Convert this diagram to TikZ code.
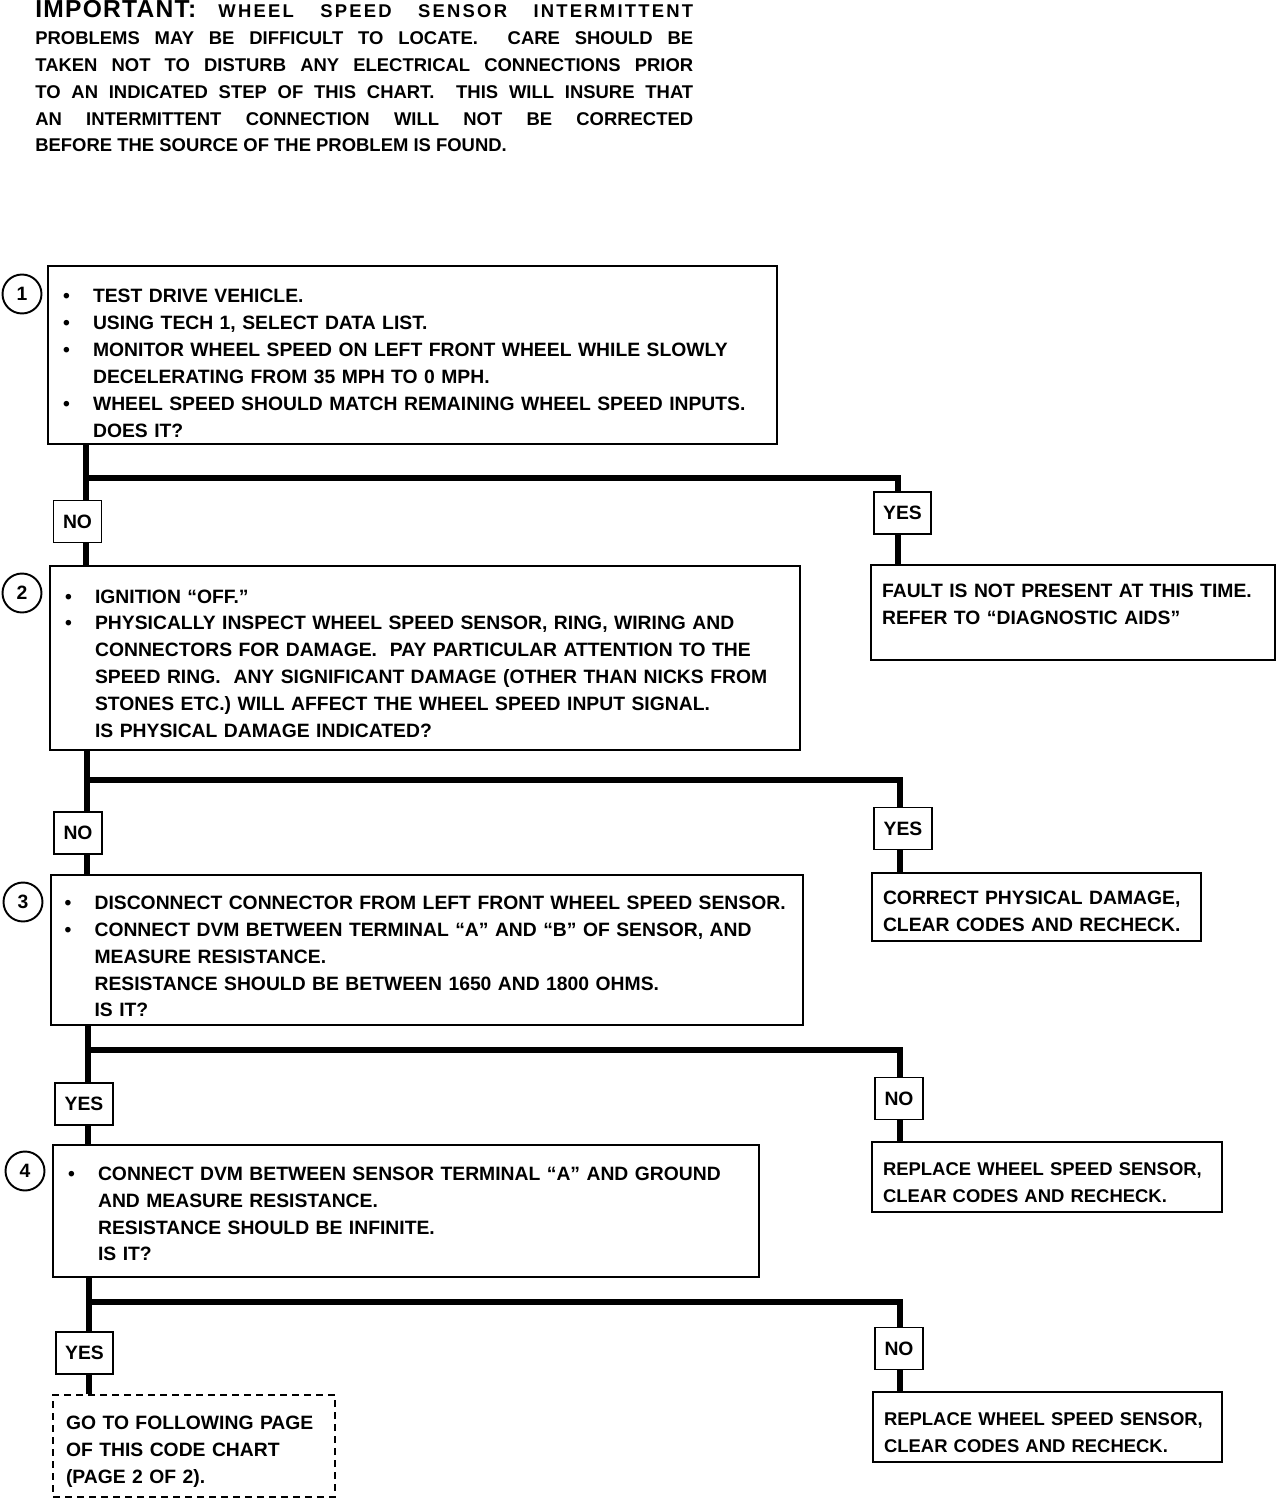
\documentclass[tikz,border=0pt]{standalone}
\usepackage{fontspec}
\setmainfont{Liberation Sans}
\newcommand\bul{\makebox[0.6cm][l]{\textbullet}}
\newcommand\ind{\hspace*{0.6cm}}
\newcommand\lift[1]{\rule{0pt}{\dimexpr 8.1pt+#1\relax}}
\newcommand\sink[1]{\rule[-#1]{0pt}{#1}}

\begin{document}
\begin{tikzpicture}[x=0.02cm, y=-0.02cm,
	font=\fontsize{11pt}{15.3pt}\selectfont\bfseries,
	main/.style = {draw, circle, line width=1.1pt, minimum size=0.78cm, inner sep=0pt},
	box/.style = {draw, line width=1.1pt, align=left, inner sep=0pt},
	lbl/.style = {draw, line width=1.1pt, minimum height=0.84cm, inner xsep=0.19cm},
	flow/.style = {line width=0.12cm}]
	\useasboundingbox (0,0) rectangle (1280,1500);
	\node[anchor=north west, align=left, inner sep=0pt, font=\fontsize{10.5pt}{15.3pt}\selectfont\bfseries] (imp) at (35,0)
		{\makebox[13.16cm][s]{{\fontsize{14pt}{15pt}\selectfont\addfontfeature{LetterSpace=5}IMPORTANT:}\hspace{1.2em}{\addfontfeature{LetterSpace=12}WHEEL SPEED SENSOR INTERMITTENT}}\\
		\makebox[13.16cm][s]{PROBLEMS MAY BE DIFFICULT TO LOCATE.\ \ CARE SHOULD BE}\\
		\makebox[13.16cm][s]{TAKEN NOT TO DISTURB ANY ELECTRICAL CONNECTIONS PRIOR}\\
		\makebox[13.16cm][s]{TO AN INDICATED STEP OF THIS CHART.\ \ THIS WILL INSURE THAT}\\
		\makebox[13.16cm][s]{AN INTERMITTENT CONNECTION WILL NOT BE CORRECTED}\\
		BEFORE THE SOURCE OF THE PROBLEM IS FOUND.};

	\node[box, minimum width=14.58cm, minimum height=3.56cm, text width=13.98cm] (1) at (412.5,355)
		{\lift{9pt}\bul TEST DRIVE VEHICLE.\\
		\bul USING TECH 1, SELECT DATA LIST.\\
		\bul MONITOR WHEEL SPEED ON LEFT FRONT WHEEL WHILE SLOWLY\\
		\ind DECELERATING FROM 35 MPH TO 0 MPH.\\
		\bul WHEEL SPEED SHOULD MATCH REMAINING WHEEL SPEED INPUTS.\\
		\ind DOES IT?};
	\node[box, minimum width=15cm, minimum height=3.68cm, text width=14.4cm] (2) at (425,658)
		{\lift{6pt}\bul IGNITION “OFF.”\\
		\bul PHYSICALLY INSPECT WHEEL SPEED SENSOR, RING, WIRING AND\\
		\ind CONNECTORS FOR DAMAGE.\ \ PAY PARTICULAR ATTENTION TO THE\\
		\ind SPEED RING.\ \ ANY SIGNIFICANT DAMAGE (OTHER THAN NICKS FROM\\
		\ind STONES ETC.) WILL AFFECT THE WHEEL SPEED INPUT SIGNAL.\\
		\ind IS PHYSICAL DAMAGE INDICATED?};
	\node[box, minimum width=15.04cm, minimum height=3cm, text width=14.5cm] (3) at (427,950)
		{\lift{7pt}\bul DISCONNECT CONNECTOR FROM LEFT FRONT WHEEL SPEED SENSOR.\\
		\bul CONNECT DVM BETWEEN TERMINAL “A” AND “B” OF SENSOR, AND\\
		\ind MEASURE RESISTANCE.\\
		\ind RESISTANCE SHOULD BE BETWEEN 1650 AND 1800 OHMS.\\
		\ind IS IT?};
	\node[box, minimum width=14.12cm, minimum height=2.64cm, text width=13.52cm] (4) at (406,1211)
		{\lift{3pt}\bul CONNECT DVM BETWEEN SENSOR TERMINAL “A” AND GROUND\\
		\ind AND MEASURE RESISTANCE.\\
		\ind RESISTANCE SHOULD BE INFINITE.\\
		\ind IS IT?};
	\node[box, dashed, dash pattern=on 0.14cm off 0.1cm, minimum width=5.64cm, minimum height=2.04cm, text width=5.12cm] (g4) at (194,1446)
		{\lift{6pt}GO TO FOLLOWING PAGE\\ OF THIS CODE CHART\\ (PAGE 2 OF 2).};

	\node[main] (c1) at (22,294) {1};
	\node[main] (c2) at (22,593) {2};
	\node[main] (c3) at (23,902) {3};
	\node[main] (c4) at (25,1171) {4};

	\node[box, minimum width=8.08cm, minimum height=1.9cm, text width=7.64cm] (f1) at (1073,612.5)
		{FAULT IS NOT PRESENT AT THIS TIME.\\ REFER TO “DIAGNOSTIC AIDS”\sink{0.32cm}};
	\node[box, minimum width=6.58cm, minimum height=1.36cm, text width=6.14cm] (d2) at (1036.5,907)
		{\lift{5pt}CORRECT PHYSICAL DAMAGE,\\ CLEAR CODES AND RECHECK.};
	\node[box, minimum width=7cm, minimum height=1.4cm, text width=6.56cm, font=\fontsize{10.5pt}{15.3pt}\selectfont\bfseries] (s3) at (1047,1177)
		{\lift{6pt}REPLACE WHEEL SPEED SENSOR,\\ CLEAR CODES AND RECHECK.};
	\node[box, minimum width=6.98cm, minimum height=1.4cm, text width=6.54cm, font=\fontsize{10.5pt}{15.3pt}\selectfont\bfseries] (s4) at (1047.5,1427)
		{\lift{6pt}REPLACE WHEEL SPEED SENSOR,\\ CLEAR CODES AND RECHECK.};

	\node[lbl] (n1) at (77.5,521.5) {NO};
	\node[lbl] (y1) at (902.5,513) {YES};
	\node[lbl] (n2) at (78,833) {NO};
	\node[lbl] (y2) at (903,828.5) {YES};
	\node[lbl] (y3) at (84,1104) {YES};
	\node[lbl] (n3) at (899,1098.5) {NO};
	\node[lbl] (y4) at (84.5,1353) {YES};
	\node[lbl] (n4) at (899,1348.5) {NO};

	\coordinate (a1) at (86,478);
	\coordinate (b1) at (898,478);
	\coordinate (a2) at (87,780);
	\coordinate (b2) at (900,780);
	\coordinate (a3) at (88,1050);
	\coordinate (b3) at (900,1050);
	\coordinate (a4) at (89,1302);
	\coordinate (b4) at (900,1302);

	\draw[flow] (1.south -| a1) -- (a1) -- (b1) -- (y1.north -| b1);
	\draw[flow] (a1) -- (n1.north -| a1);
	\draw[flow] (n1.south -| a1) -- (2.north -| a1);
	\draw[flow] (y1.south -| b1) -- (f1.north -| b1);

	\draw[flow] (2.south -| a2) -- (a2) -- (b2) -- (y2.north -| b2);
	\draw[flow] (a2) -- (n2.north -| a2);
	\draw[flow] (n2.south -| a2) -- (3.north -| a2);
	\draw[flow] (y2.south -| b2) -- (d2.north -| b2);

	\draw[flow] (3.south -| a3) -- (a3) -- (b3) -- (n3.north -| b3);
	\draw[flow] (a3) -- (y3.north -| a3);
	\draw[flow] (y3.south -| a3) -- (4.north -| a3);
	\draw[flow] (n3.south -| b3) -- (s3.north -| b3);

	\draw[flow] (4.south -| a4) -- (a4) -- (b4) -- (n4.north -| b4);
	\draw[flow] (a4) -- (y4.north -| a4);
	\draw[flow] (y4.south -| a4) -- (g4.north -| a4);
	\draw[flow] (n4.south -| b4) -- (s4.north -| b4);
\end{tikzpicture}
\end{document}
